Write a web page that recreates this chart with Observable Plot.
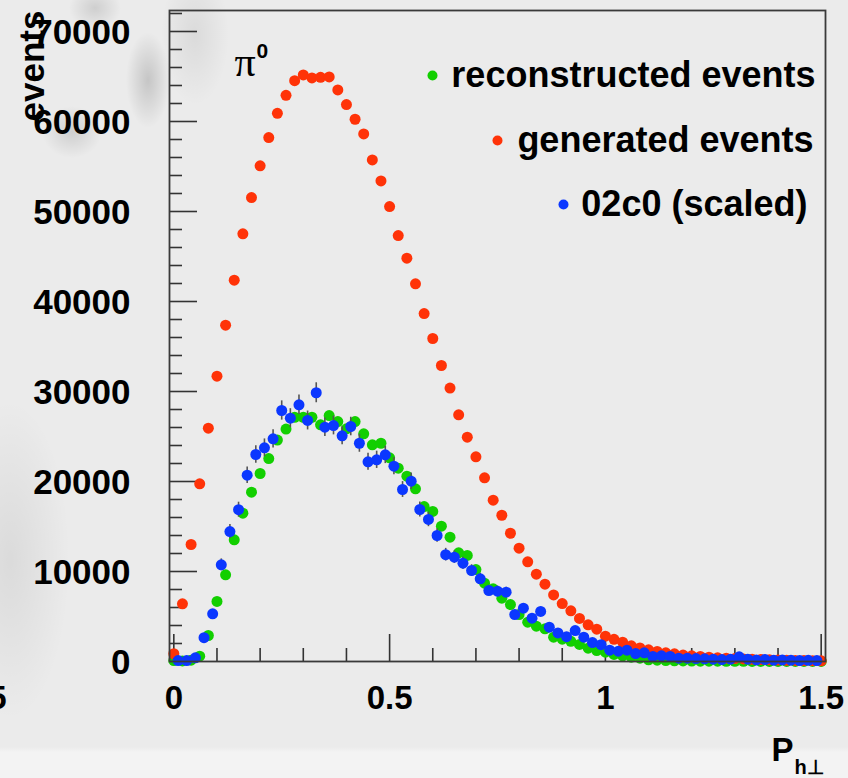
<!DOCTYPE html>
<html><head><meta charset="utf-8">
<script src="https://cdn.jsdelivr.net/npm/d3@7"></script>
<script src="https://cdn.jsdelivr.net/npm/@observablehq/plot@0.6"></script>
<style>
html,body{margin:0;padding:0;overflow:hidden;}
body{width:848px;height:778px;position:relative;
background:
 radial-gradient(ellipse 22px 48px at 148px 80px, rgba(0,0,0,0.16), rgba(0,0,0,0) 100%),
 radial-gradient(ellipse 30px 26px at 72px 132px, rgba(0,0,0,0.12), rgba(0,0,0,0) 100%),
 radial-gradient(ellipse 26px 22px at 95px 8px, rgba(0,0,0,0.12), rgba(0,0,0,0) 100%),
 radial-gradient(ellipse 34px 70px at 195px 35px, rgba(0,0,0,0.07), rgba(0,0,0,0) 100%),
 radial-gradient(ellipse 60px 160px at 10px 560px, rgba(0,0,0,0.07), rgba(0,0,0,0) 100%),
 linear-gradient(to bottom, #ebebeb 0px, #ebebeb 747px, #f3f3f3 752px, #f3f3f3 778px);}
#chart{position:absolute;left:0;top:0;}
</style></head><body><div id="chart"></div><script>
// bin centres
const evenX = [0,0.02,0.04,0.06,0.08,0.10,0.12,0.14,0.16,0.18,
 0.20,0.22,0.24,0.26,0.28,0.30,0.32,0.34,0.36,0.38,
 0.40,0.42,0.44,0.46,0.48,0.50,0.52,0.54,0.56,0.58,
 0.60,0.62,0.64,0.66,0.68,0.70,0.72,0.74,0.76,0.78,
 0.80,0.82,0.84,0.86,0.88,0.90,0.92,0.94,0.96,0.98,
 1.00,1.02,1.04,1.06,1.08,1.10,1.12,1.14,1.16,1.18,
 1.20,1.22,1.24,1.26,1.28,1.30,1.32,1.34,1.36,1.38,
 1.40,1.42,1.44,1.46,1.48,1.50];
const oddX = [0.01,0.03,0.05,0.07,0.09,0.11,0.13,0.15,0.17,0.19,
 0.21,0.23,0.25,0.27,0.29,0.31,0.33,0.35,0.37,0.39,
 0.41,0.43,0.45,0.47,0.49,0.51,0.53,0.55,0.57,0.59,
 0.61,0.63,0.65,0.67,0.69,0.71,0.73,0.75,0.77,0.79,
 0.81,0.83,0.85,0.87,0.89,0.91,0.93,0.95,0.97,0.99,
 1.01,1.03,1.05,1.07,1.09,1.11,1.13,1.15,1.17,1.19,
 1.21,1.23,1.25,1.27,1.29,1.31,1.33,1.35,1.37,1.39,
 1.41,1.43,1.45,1.47,1.49];
// reconstructed events (green)
const reconstructed = [100,60,150,590,2890,6670,9630,13520,16480,18810,
 20890,22550,24600,25830,27140,27140,27140,26300,27330,26660,
 25850,26660,25300,24080,24250,22630,21480,20590,19190,17220,
 16670,15030,13810,12070,11780,10220,8700,8080,7030,6330,
 5220,4370,3930,3630,2700,2480,2240,1900,1480,1220,
 1040,780,630,480,370,190,150,100,80,60,
 50,40,30,30,20,20,20,10,10,10,
 10,10,10,10,10,10];
// generated events (red)
const generated = [860,6410,13000,19740,25920,31700,37370,42370,47520,51550,
 55070,58210,60910,62910,64540,65170,64840,64910,64950,63510,
 61880,60250,58620,55730,53400,50550,47330,44810,41960,38660,
 35890,32890,30380,27410,24920,22740,20410,17920,16250,14250,
 12590,11070,9700,8590,7400,6440,5630,4780,4070,3590,
 2810,2460,2140,1740,1500,1300,1110,970,850,720,
 630,560,480,410,370,330,290,250,220,190,
 160,140,120,100,90,70];
// 02c0 (scaled) (blue) and its errors
const scaled02c0 = [100,100,410,2650,5300,10740,14440,16870,20700,23000,
 23740,24740,27890,27040,28520,26780,29860,26030,26220,25080,
 26110,24250,22190,22410,22960,21700,19110,20030,16890,15780,
 14000,11870,11590,10920,10110,9190,7890,7810,7700,5220,
 5930,4810,5560,3810,3180,2760,3440,2700,2100,1870,
 1260,1150,1260,880,960,560,630,560,370,370,
 330,300,260,220,260,520,260,180,220,150,
 180,150,110,130,100];
const scaled02c0Err = [60,60,130,330,470,660,770,830,920,970,
 990,1010,1070,1050,1080,1050,1110,1030,1040,1010,
 1030,1000,950,960,970,940,880,910,830,800,
 760,700,690,670,640,610,570,570,560,460,
 490,440,480,400,360,340,380,330,290,280,
 230,220,230,190,200,150,160,150,120,120,
 120,110,100,100,100,150,100,90,100,80,
 90,80,70,70,60];

const xMajor = [0, 0.5, 1, 1.5];
const xMinor = [0.1,0.2,0.3,0.4,0.6,0.7,0.8,0.9,1.1,1.2,1.3,1.4];
const yMajor = [0,10000,20000,30000,40000,50000,60000,70000];
const yMinor = [2000,4000,6000,8000,12000,14000,16000,18000,22000,24000,26000,28000,
 32000,34000,36000,38000,42000,44000,46000,48000,52000,54000,56000,58000,62000,64000,66000,68000,72000];
const legendLabels = ["reconstructed events", "generated events", "02c0 (scaled)"];

const GREEN = "#12cf00", RED = "#ff3308", BLUE = "#0b37ff";
const greenData = evenX.map((x, i) => ({x, v: reconstructed[i]}));
const redData = evenX.map((x, i) => ({x, v: generated[i]}));
const blueData = oddX.map((x, i) => ({x, v: scaled02c0[i], e: scaled02c0Err[i]}));

const FW = 825 - 169, FH = 661 - 10;
const font = "'Liberation Sans', Arial, Helvetica, sans-serif";
const tickStyle = {stroke: "#333", strokeWidth: 1.6};

const legendItems = [
  {label: legendLabels[0], color: GREEN, tdx: -10, dy: 65, ddx: -393},
  {label: legendLabels[1], color: RED, tdx: -12, dy: 130, ddx: -328},
  {label: legendLabels[2], color: BLUE, tdx: -18, dy: 194, ddx: -262}
];

const chart = Plot.plot({
  width: 848, height: 778,
  marginLeft: 169, marginRight: 23, marginTop: 10, marginBottom: 117,
  style: {background: "transparent", fontFamily: font, overflow: "visible"},
  x: {domain: [-0.01, 1.51]},
  y: {domain: [0, 72333]},
  marks: [
    Plot.ruleX(xMinor, {x: d => d, insetTop: FH - 13, ...tickStyle}),
    Plot.ruleX(xMajor, {x: d => d, insetTop: FH - 27, ...tickStyle}),
    Plot.ruleY(yMinor, {y: d => d, insetRight: FW - 13, ...tickStyle}),
    Plot.ruleY(yMajor, {y: d => d, insetRight: FW - 28, ...tickStyle}),
    Plot.axisX({ticks: xMajor, tickSize: 0, tickPadding: 24, fontSize: 33, fontWeight: "bold", fill: "#000", tickFormat: d => String(d), label: null}),
    Plot.axisY({ticks: yMajor, tickSize: 0, tickPadding: 39, dy: 1, fontSize: 35, fontWeight: "bold", fill: "#000", tickFormat: d => String(d), label: null}),
    Plot.dot(greenData, {x: "x", y: "v", r: 5.5, fill: GREEN}),
    Plot.dot(redData, {x: "x", y: "v", r: 5.5, fill: RED}),
    Plot.ruleX(blueData, {x: "x", y1: d => d.v - d.e, y2: d => d.v + d.e, stroke: "#555", strokeWidth: 1.6}),
    Plot.dot(blueData, {x: "x", y: "v", r: 5.5, fill: BLUE}),
    Plot.frame({stroke: "#3a3a3a", strokeWidth: 1.8}),
    // axis titles
    Plot.text(["events"], {frameAnchor: "top-left", dx: -126, dy: 0, rotate: -90, textAnchor: "end", lineAnchor: "bottom", fontSize: 35, fontWeight: "bold", fill: "#000"}),
    Plot.text(["P"], {frameAnchor: "bottom-right", dx: -54, dy: 99, textAnchor: "start", lineAnchor: "bottom", fontSize: 33, fontWeight: "bold", fill: "#000"}),
    Plot.text(["h\u22A5"], {frameAnchor: "bottom-right", dx: -31, dy: 112, textAnchor: "start", lineAnchor: "bottom", fontSize: 20, fontWeight: "bold", fill: "#000"}),
    // neighbouring-panel tick label cut off at the left edge (as in the reference)
    Plot.text(["1.5"], {frameAnchor: "bottom-left", dx: -163, dy: 24, textAnchor: "end", lineAnchor: "top", fontSize: 33, fontWeight: "bold", fill: "#000"}),
    // pi0 annotation
    Plot.text(["\u03C0"], {frameAnchor: "top-left", dx: 65, dy: 65, textAnchor: "start", lineAnchor: "bottom", fontSize: 42, fontFamily: "'Liberation Serif', 'DejaVu Serif', serif", fill: "#000"}),
    Plot.text(["0"], {frameAnchor: "top-left", dx: 87, dy: 47, textAnchor: "start", lineAnchor: "bottom", fontSize: 21, fontWeight: "bold", fill: "#000"}),
    // legend
    ...legendItems.flatMap(it => [
      Plot.dot([it.label], {frameAnchor: "top-right", dx: it.ddx, dy: it.dy, r: 5, fill: it.color}),
      Plot.text([it.label], {frameAnchor: "top-right", dx: it.tdx, dy: it.dy, textAnchor: "end", lineAnchor: "middle", fontSize: 36, fontWeight: "bold", fill: "#000"})
    ])
  ]
});
document.getElementById("chart").appendChild(chart);
</script></body></html>
